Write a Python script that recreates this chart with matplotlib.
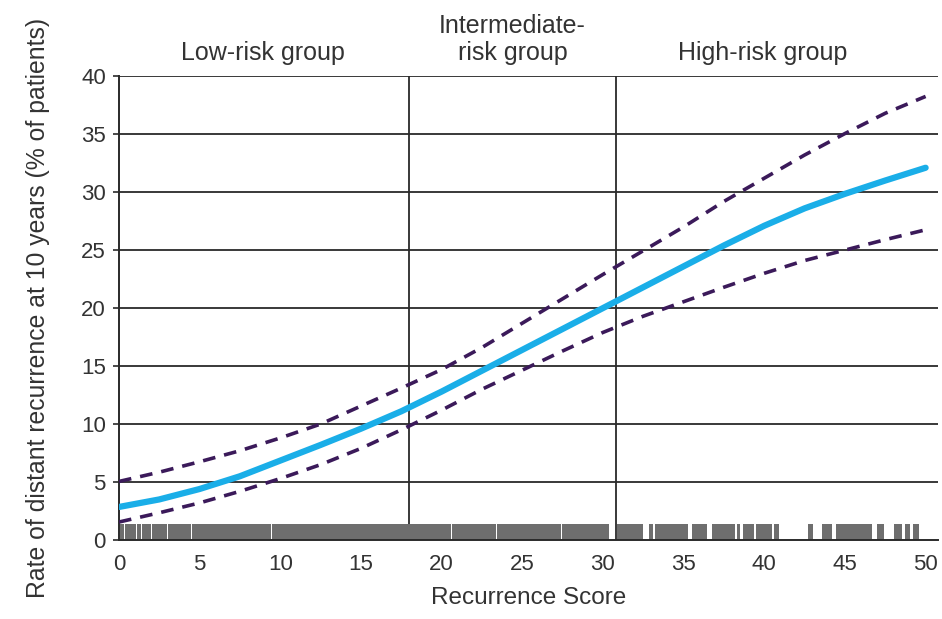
import matplotlib.pyplot as plt

# recurrence score grid and estimated curves
score = [0, 2.5, 5, 7.5, 10, 12.5, 15, 17.5, 20, 22.5, 25, 27.5, 30,
         32.5, 35, 37.5, 40, 42.5, 45, 47.5, 50]
rate = [2.85, 3.5, 4.4, 5.5, 6.85, 8.2, 9.6, 11.1, 12.8, 14.6, 16.4, 18.2, 20.0,
        21.8, 23.6, 25.4, 27.1, 28.6, 29.85, 31.0, 32.1]
upper = [5.05, 5.85, 6.75, 7.7, 8.8, 10.0, 11.55, 13.1, 14.7, 16.6, 18.7, 20.8, 22.9,
         24.95, 27.0, 29.2, 31.2, 33.2, 35.05, 36.8, 38.25]
lower = [1.55, 2.35, 3.2, 4.2, 5.3, 6.5, 7.9, 9.5, 11.2, 13.0, 14.65, 16.3, 17.9,
         19.3, 20.55, 21.8, 23.0, 24.1, 25.0, 25.9, 26.75]

# rug of observed scores, as covered intervals
rug_start = [0.06, 0.40, 1.13, 1.44, 2.06, 3.03, 4.54, 9.50, 20.66, 23.41, 27.48,
             30.85, 32.88, 33.23, 35.50, 36.74, 38.30, 38.66, 39.49, 40.61,
             42.70, 43.56, 44.43, 47.01, 48.05, 48.73, 49.20]
rug_end = [0.34, 1.07, 1.38, 2.00, 2.97, 4.48, 9.44, 20.60, 23.35, 27.42, 30.40,
           32.46, 33.13, 35.29, 36.47, 38.19, 38.50, 39.38, 40.50, 40.94,
           43.05, 44.18, 46.66, 47.39, 48.52, 49.04, 49.62]

cutoffs = [18, 30.8]
groups = ['Low-risk group', 'Intermediate-\nrisk group', 'High-risk group']
group_x = [8.95, 24.4, 39.9]

txt = '#333333'
plt.rcParams['font.family'] = ['Liberation Sans', 'DejaVu Sans']

fig = plt.figure(figsize=(9.42, 6.19), dpi=100)
ax = fig.add_axes([0.1263, 0.1276, 0.8695, 0.7494])

for y in range(5, 45, 5):
    ax.axhline(y, color='#2a2a2a', lw=1.3, zorder=1)
for c in cutoffs:
    ax.axvline(c, color='#2a2a2a', lw=1.3, zorder=1)

widths = [e - s for s, e in zip(rug_start, rug_end)]
ax.bar(rug_start, [1.4] * len(rug_start), width=widths, align='edge',
       color='#6e6e6e', lw=0, zorder=2)

ax.plot(score, upper, color='#3b1a5a', lw=2.6, dashes=(3.5, 2.5), zorder=3)
ax.plot(score, lower, color='#3b1a5a', lw=2.6, dashes=(3.5, 2.5), zorder=3)
ax.plot(score, rate, color='#1aaee8', lw=4.5, solid_capstyle='round', zorder=4)

ax.set_xlim(0, 50.77)
ax.set_ylim(0, 40)
ax.set_xticks(range(0, 55, 5))
ax.set_yticks(range(0, 45, 5))
ax.tick_params(axis='x', length=0, pad=10, labelsize=16, labelcolor=txt)
ax.tick_params(axis='y', length=4.5, width=1.2, color='#2a2a2a', pad=5,
               labelsize=16, labelcolor=txt)

for s in ['top', 'right']:
    ax.spines[s].set_visible(False)
for s in ['left', 'bottom']:
    ax.spines[s].set_color('#2a2a2a')
    ax.spines[s].set_linewidth(1.4)

ax.set_xlabel('Recurrence Score', fontsize=17.5, color=txt, labelpad=9)
ax.set_ylabel('Rate of distant recurrence at 10 years (% of patients)',
              fontsize=17.8, color=txt, labelpad=22)

for g, gx in zip(groups, group_x):
    ax.text(gx, 41.0, g, ha='center', va='bottom', fontsize=18, color=txt,
            linespacing=1.15)

fig.savefig('out.png', dpi=100)
